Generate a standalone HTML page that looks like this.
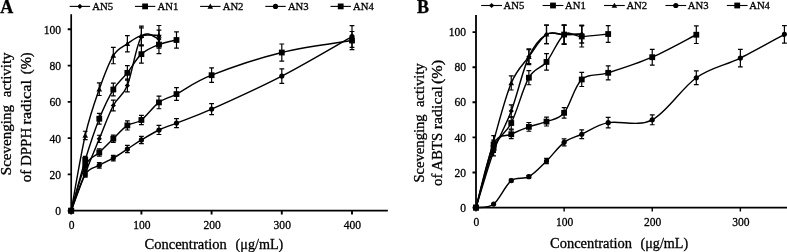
<!DOCTYPE html>
<html><head><meta charset="utf-8"><style>
html,body{margin:0;padding:0;background:#fff;}
body{width:787px;height:252px;overflow:hidden;}
svg{display:block;font-family:"Liberation Serif",serif;}
text{stroke:#000;stroke-width:0.3px;}
svg{filter:grayscale(1) blur(0.3px);}
</style></head><body>
<svg width="787" height="252" viewBox="0 0 787 252">
<rect width="787" height="252" fill="#fff"/>
<g fill="#000" class="t">
<path d="M71.20,210.70 C73.54,204.47 80.56,185.30 85.24,173.33 C89.92,161.36 94.60,150.17 99.28,138.87 C103.96,127.56 108.64,114.38 113.32,105.49 C118.00,96.60 122.68,96.96 127.36,85.53 C132.04,74.11 136.13,44.66 141.40,36.92 C146.66,29.18 156.02,38.73 158.95,39.10" fill="none" stroke="#000" stroke-width="1.45"/>
<path d="M85.24,170.61 V176.05 M82.84,170.61 H87.64 M82.84,176.05 H87.64 M99.28,135.24 V142.49 M96.88,135.24 H101.68 M96.88,142.49 H101.68 M113.32,100.05 V110.93 M110.92,100.05 H115.72 M110.92,110.93 H115.72 M127.36,79.18 V91.88 M124.96,79.18 H129.76 M124.96,91.88 H129.76 M141.40,27.85 V45.99 M139.00,27.85 H143.80 M139.00,45.99 H143.80 M158.95,30.03 V48.17 M156.55,30.03 H161.35 M156.55,48.17 H161.35" fill="none" stroke="#000" stroke-width="1.2"/>
<path d="M71.20,208.10 L73.80,210.70 L71.20,213.30 L68.60,210.70Z"/>
<path d="M85.24,170.73 L87.84,173.33 L85.24,175.93 L82.64,173.33Z"/>
<path d="M99.28,136.27 L101.88,138.87 L99.28,141.47 L96.68,138.87Z"/>
<path d="M113.32,102.89 L115.92,105.49 L113.32,108.09 L110.72,105.49Z"/>
<path d="M127.36,82.93 L129.96,85.53 L127.36,88.13 L124.76,85.53Z"/>
<path d="M141.40,34.32 L144.00,36.92 L141.40,39.52 L138.80,36.92Z"/>
<path d="M158.95,36.50 L161.55,39.10 L158.95,41.70 L156.35,39.10Z"/>
<path d="M71.20,210.70 C73.54,202.23 80.56,175.24 85.24,159.91 C89.92,144.58 94.60,130.46 99.28,118.73 C103.96,107.00 108.64,97.17 113.32,89.52 C118.00,81.88 122.68,78.73 127.36,72.84 C132.04,66.94 136.13,58.87 141.40,54.15 C146.66,49.44 153.10,46.90 158.95,44.54 C164.80,42.18 173.57,40.76 176.50,40.00" fill="none" stroke="#000" stroke-width="1.45"/>
<path d="M85.24,156.28 V163.54 M82.84,156.28 H87.64 M82.84,163.54 H87.64 M99.28,113.29 V124.17 M96.88,113.29 H101.68 M96.88,124.17 H101.68 M113.32,83.18 V95.87 M110.92,83.18 H115.72 M110.92,95.87 H115.72 M127.36,65.58 V80.09 M124.96,65.58 H129.76 M124.96,80.09 H129.76 M141.40,45.08 V63.22 M139.00,45.08 H143.80 M139.00,63.22 H143.80 M158.95,35.47 V53.61 M156.55,35.47 H161.35 M156.55,53.61 H161.35 M176.50,31.84 V48.17 M174.10,31.84 H178.90 M174.10,48.17 H178.90" fill="none" stroke="#000" stroke-width="1.2"/>
<rect x="68.30" y="207.80" width="5.80" height="5.80"/>
<rect x="82.34" y="157.01" width="5.80" height="5.80"/>
<rect x="96.38" y="115.83" width="5.80" height="5.80"/>
<rect x="110.42" y="86.62" width="5.80" height="5.80"/>
<rect x="124.46" y="69.94" width="5.80" height="5.80"/>
<rect x="138.50" y="51.25" width="5.80" height="5.80"/>
<rect x="156.05" y="41.64" width="5.80" height="5.80"/>
<rect x="173.60" y="37.10" width="5.80" height="5.80"/>
<path d="M71.20,210.70 C73.54,198.15 80.56,155.68 85.24,135.42 C89.92,115.16 94.60,102.46 99.28,89.16 C103.96,75.86 108.64,63.16 113.32,55.60 C118.00,48.04 122.68,47.14 127.36,43.81 C132.04,40.49 136.13,37.04 141.40,35.65 C146.66,34.26 156.02,35.50 158.95,35.47" fill="none" stroke="#000" stroke-width="1.45"/>
<path d="M85.24,131.25 V139.59 M82.84,131.25 H87.64 M82.84,139.59 H87.64 M99.28,82.81 V95.51 M96.88,82.81 H101.68 M96.88,95.51 H101.68 M113.32,47.44 V63.77 M110.92,47.44 H115.72 M110.92,63.77 H115.72 M127.36,35.65 V51.97 M124.96,35.65 H129.76 M124.96,51.97 H129.76 M141.40,26.22 V45.08 M139.00,26.22 H143.80 M139.00,45.08 H143.80 M158.95,25.49 V45.44 M156.55,25.49 H161.35 M156.55,45.44 H161.35" fill="none" stroke="#000" stroke-width="1.2"/>
<path d="M71.20,207.90 L74.00,212.94 L68.40,212.94Z"/>
<path d="M85.24,132.62 L88.04,137.66 L82.44,137.66Z"/>
<path d="M99.28,86.36 L102.08,91.40 L96.48,91.40Z"/>
<path d="M113.32,52.80 L116.12,57.84 L110.52,57.84Z"/>
<path d="M127.36,41.01 L130.16,46.05 L124.56,46.05Z"/>
<path d="M141.40,32.85 L144.20,37.89 L138.60,37.89Z"/>
<path d="M158.95,32.67 L161.75,37.71 L156.15,37.71Z"/>
<path d="M71.20,210.70 C73.54,204.65 80.56,181.98 85.24,174.42 C89.92,166.86 94.60,168.07 99.28,165.35 C103.96,162.63 108.64,160.81 113.32,158.09 C118.00,155.37 122.68,152.05 127.36,149.02 C132.04,146.00 136.13,143.13 141.40,139.95 C146.66,136.78 153.10,132.79 158.95,129.98 C164.80,127.17 167.72,126.56 176.50,123.08 C185.28,119.61 194.05,116.95 211.60,109.12 C229.15,101.29 258.40,88.19 281.80,76.10 C305.20,64.01 340.30,43.15 352.00,36.56" fill="none" stroke="#000" stroke-width="1.45"/>
<path d="M85.24,171.70 V177.14 M82.84,171.70 H87.64 M82.84,177.14 H87.64 M99.28,162.63 V168.07 M96.88,162.63 H101.68 M96.88,168.07 H101.68 M113.32,155.37 V160.81 M110.92,155.37 H115.72 M110.92,160.81 H115.72 M127.36,145.40 V152.65 M124.96,145.40 H129.76 M124.96,152.65 H129.76 M141.40,136.33 V143.58 M139.00,136.33 H143.80 M139.00,143.58 H143.80 M158.95,125.44 V134.51 M156.55,125.44 H161.35 M156.55,134.51 H161.35 M176.50,118.55 V127.62 M174.10,118.55 H178.90 M174.10,127.62 H178.90 M211.60,103.67 V114.56 M209.20,103.67 H214.00 M209.20,114.56 H214.00 M281.80,68.85 V83.36 M279.40,68.85 H284.20 M279.40,83.36 H284.20 M352.00,25.67 V47.44 M349.60,25.67 H354.40 M349.60,47.44 H354.40" fill="none" stroke="#000" stroke-width="1.2"/>
<circle cx="71.20" cy="210.70" r="2.6"/>
<circle cx="85.24" cy="174.42" r="2.6"/>
<circle cx="99.28" cy="165.35" r="2.6"/>
<circle cx="113.32" cy="158.09" r="2.6"/>
<circle cx="127.36" cy="149.02" r="2.6"/>
<circle cx="141.40" cy="139.95" r="2.6"/>
<circle cx="158.95" cy="129.98" r="2.6"/>
<circle cx="176.50" cy="123.08" r="2.6"/>
<circle cx="211.60" cy="109.12" r="2.6"/>
<circle cx="281.80" cy="76.10" r="2.6"/>
<circle cx="352.00" cy="36.56" r="2.6"/>
<path d="M71.20,210.70 C73.54,203.20 80.56,175.42 85.24,165.71 C89.92,156.01 94.60,156.98 99.28,152.47 C103.96,147.97 108.64,143.19 113.32,138.68 C118.00,134.18 122.68,128.56 127.36,125.44 C132.04,122.33 136.13,123.84 141.40,120.00 C146.66,116.16 153.10,106.73 158.95,102.40 C164.80,98.08 167.72,98.59 176.50,94.06 C185.28,89.52 194.05,82.12 211.60,75.19 C229.15,68.27 258.40,58.29 281.80,52.52 C305.20,46.74 340.30,42.54 352.00,40.55" fill="none" stroke="#000" stroke-width="1.45"/>
<path d="M85.24,162.08 V169.34 M82.84,162.08 H87.64 M82.84,169.34 H87.64 M99.28,148.84 V156.10 M96.88,148.84 H101.68 M96.88,156.10 H101.68 M113.32,135.06 V142.31 M110.92,135.06 H115.72 M110.92,142.31 H115.72 M127.36,120.91 V129.98 M124.96,120.91 H129.76 M124.96,129.98 H129.76 M141.40,115.46 V124.53 M139.00,115.46 H143.80 M139.00,124.53 H143.80 M158.95,96.06 V108.75 M156.55,96.06 H161.35 M156.55,108.75 H161.35 M176.50,87.71 V100.41 M174.10,87.71 H178.90 M174.10,100.41 H178.90 M211.60,67.94 V82.45 M209.20,67.94 H214.00 M209.20,82.45 H214.00 M281.80,43.99 V61.04 M279.40,43.99 H284.20 M279.40,61.04 H284.20 M352.00,31.48 V49.62 M349.60,31.48 H354.40 M349.60,49.62 H354.40" fill="none" stroke="#000" stroke-width="1.2"/>
<rect x="68.30" y="207.80" width="5.80" height="5.80"/>
<rect x="82.34" y="162.81" width="5.80" height="5.80"/>
<rect x="96.38" y="149.57" width="5.80" height="5.80"/>
<rect x="110.42" y="135.78" width="5.80" height="5.80"/>
<rect x="124.46" y="122.54" width="5.80" height="5.80"/>
<rect x="138.50" y="117.10" width="5.80" height="5.80"/>
<rect x="156.05" y="99.50" width="5.80" height="5.80"/>
<rect x="173.60" y="91.16" width="5.80" height="5.80"/>
<rect x="208.70" y="72.29" width="5.80" height="5.80"/>
<rect x="278.90" y="49.62" width="5.80" height="5.80"/>
<rect x="349.10" y="37.65" width="5.80" height="5.80"/>
<path d="M71.20,15.00 V210.70 H387.00" fill="none" stroke="#000" stroke-width="1.70" stroke-linecap="square"/>
<path d="M67.70,210.70 H71.20 M67.70,174.42 H71.20 M67.70,138.14 H71.20 M67.70,101.86 H71.20 M67.70,65.58 H71.20 M67.70,29.30 H71.20" fill="none" stroke="#000" stroke-width="1.9"/>
<path d="M71.20,210.70 V214.50 M141.40,210.70 V214.50 M211.60,210.70 V214.50 M281.80,210.70 V214.50 M352.00,210.70 V214.50" fill="none" stroke="#000" stroke-width="1.90"/>
<text x="61.10" y="215.20" text-anchor="end" font-size="12.3" textLength="5.78" lengthAdjust="spacingAndGlyphs">0</text>
<text x="61.10" y="178.92" text-anchor="end" font-size="12.3" textLength="11.56" lengthAdjust="spacingAndGlyphs">20</text>
<text x="61.10" y="142.64" text-anchor="end" font-size="12.3" textLength="11.56" lengthAdjust="spacingAndGlyphs">40</text>
<text x="61.10" y="106.36" text-anchor="end" font-size="12.3" textLength="11.56" lengthAdjust="spacingAndGlyphs">60</text>
<text x="61.10" y="70.08" text-anchor="end" font-size="12.3" textLength="11.56" lengthAdjust="spacingAndGlyphs">80</text>
<text x="61.10" y="33.80" text-anchor="end" font-size="12.3" textLength="17.34" lengthAdjust="spacingAndGlyphs">100</text>
<text x="71.65" y="228.90" text-anchor="middle" font-size="12.3" textLength="5.78" lengthAdjust="spacingAndGlyphs">0</text>
<text x="141.85" y="228.90" text-anchor="middle" font-size="12.3" textLength="17.34" lengthAdjust="spacingAndGlyphs">100</text>
<text x="212.05" y="228.90" text-anchor="middle" font-size="12.3" textLength="17.34" lengthAdjust="spacingAndGlyphs">200</text>
<text x="282.25" y="228.90" text-anchor="middle" font-size="12.3" textLength="17.34" lengthAdjust="spacingAndGlyphs">300</text>
<text x="352.45" y="228.90" text-anchor="middle" font-size="12.3" textLength="17.34" lengthAdjust="spacingAndGlyphs">400</text>
<path d="M69.70,6.40 H90.10" stroke="#000" stroke-width="1.1"/>
<path d="M79.90,3.80 L82.50,6.40 L79.90,9.00 L77.30,6.40Z"/>
<text x="92.30" y="10.00" font-size="10.7">AN5</text>
<path d="M134.90,6.40 H155.30" stroke="#000" stroke-width="1.1"/>
<rect x="142.20" y="3.50" width="5.80" height="5.80"/>
<text x="157.50" y="10.00" font-size="10.7">AN1</text>
<path d="M200.10,6.40 H220.50" stroke="#000" stroke-width="1.1"/>
<path d="M210.30,3.60 L213.10,8.64 L207.50,8.64Z"/>
<text x="222.70" y="10.00" font-size="10.7">AN2</text>
<path d="M265.30,6.40 H285.70" stroke="#000" stroke-width="1.1"/>
<circle cx="275.50" cy="6.40" r="2.6"/>
<text x="287.90" y="10.00" font-size="10.7">AN3</text>
<path d="M330.50,6.40 H350.90" stroke="#000" stroke-width="1.1"/>
<rect x="337.80" y="3.50" width="5.80" height="5.80"/>
<text x="353.10" y="10.00" font-size="10.7">AN4</text>
<text x="144.50" y="248.60" font-size="14.5" textLength="82.30" lengthAdjust="spacingAndGlyphs">Concentration</text>
<text x="235.60" y="248.60" font-size="14.5" textLength="47.70" lengthAdjust="spacingAndGlyphs">(μg/mL)</text>
<text transform="translate(10.80,175.20) rotate(-90)" font-size="14.9" textLength="70.20" lengthAdjust="spacingAndGlyphs">Scevenging</text>
<text transform="translate(10.80,97.20) rotate(-90)" font-size="14.9" textLength="44.80" lengthAdjust="spacingAndGlyphs">activity</text>
<text transform="translate(30.50,182.20) rotate(-90)" font-size="14.9" textLength="54.40" lengthAdjust="spacingAndGlyphs">of DPPH</text>
<text transform="translate(30.50,124.40) rotate(-90)" font-size="14.9" textLength="44.50" lengthAdjust="spacingAndGlyphs">radical</text>
<text transform="translate(30.50,74.20) rotate(-90)" font-size="14.9" textLength="21.90" lengthAdjust="spacingAndGlyphs">(%)</text>
<text x="0.20" y="13.00" font-size="18" font-weight="bold" stroke="none">A</text>
</g>
<g fill="#000" class="t">
<path d="M476.00,207.60 C478.94,198.24 487.75,167.53 493.62,151.44 C499.50,135.35 505.37,126.87 511.25,111.08 C517.12,95.28 523.00,69.45 528.87,56.67 C534.75,43.89 540.62,38.07 546.50,34.38 C552.37,30.70 558.25,34.59 564.12,34.56 C569.99,34.53 578.81,34.26 581.74,34.21" fill="none" stroke="#000" stroke-width="1.45"/>
<path d="M493.62,147.05 V155.83 M491.22,147.05 H496.02 M491.22,155.83 H496.02 M511.25,104.93 V117.22 M508.85,104.93 H513.65 M508.85,117.22 H513.65 M528.87,49.65 V63.69 M526.47,49.65 H531.27 M526.47,63.69 H531.27 M546.50,25.08 V43.68 M544.10,25.08 H548.90 M544.10,43.68 H548.90 M564.12,25.08 V44.03 M561.72,25.08 H566.52 M561.72,44.03 H566.52 M581.74,25.43 V42.98 M579.34,25.43 H584.14 M579.34,42.98 H584.14" fill="none" stroke="#000" stroke-width="1.2"/>
<path d="M476.00,205.00 L478.60,207.60 L476.00,210.20 L473.40,207.60Z"/>
<path d="M493.62,148.84 L496.22,151.44 L493.62,154.04 L491.02,151.44Z"/>
<path d="M511.25,108.48 L513.85,111.08 L511.25,113.67 L508.65,111.08Z"/>
<path d="M528.87,54.07 L531.47,56.67 L528.87,59.27 L526.27,56.67Z"/>
<path d="M546.50,31.78 L549.10,34.38 L546.50,36.98 L543.90,34.38Z"/>
<path d="M564.12,31.96 L566.72,34.56 L564.12,37.16 L561.52,34.56Z"/>
<path d="M581.74,31.61 L584.34,34.21 L581.74,36.81 L579.14,34.21Z"/>
<path d="M476.00,207.60 C478.94,197.66 487.75,162.03 493.62,147.93 C499.50,133.83 505.37,134.71 511.25,123.01 C517.12,111.31 523.00,87.91 528.87,77.73 C534.75,67.55 540.62,69.13 546.50,61.94 C552.37,54.74 558.25,38.80 564.12,34.56 C569.99,30.32 574.40,36.58 581.74,36.49 C589.09,36.40 603.77,34.44 608.18,34.03" fill="none" stroke="#000" stroke-width="1.45"/>
<path d="M493.62,143.54 V152.32 M491.22,143.54 H496.02 M491.22,152.32 H496.02 M511.25,116.87 V129.15 M508.85,116.87 H513.65 M508.85,129.15 H513.65 M528.87,70.71 V84.75 M526.47,70.71 H531.27 M526.47,84.75 H531.27 M546.50,53.69 V70.18 M544.10,53.69 H548.90 M544.10,70.18 H548.90 M564.12,25.08 V44.03 M561.72,25.08 H566.52 M561.72,44.03 H566.52 M581.74,25.96 V47.02 M579.34,25.96 H584.14 M579.34,47.02 H584.14 M608.18,25.61 V42.45 M605.78,25.61 H610.58 M605.78,42.45 H610.58" fill="none" stroke="#000" stroke-width="1.2"/>
<rect x="473.10" y="204.70" width="5.80" height="5.80"/>
<rect x="490.72" y="145.03" width="5.80" height="5.80"/>
<rect x="508.35" y="120.11" width="5.80" height="5.80"/>
<rect x="525.97" y="74.83" width="5.80" height="5.80"/>
<rect x="543.60" y="59.04" width="5.80" height="5.80"/>
<rect x="561.22" y="31.66" width="5.80" height="5.80"/>
<rect x="578.84" y="33.59" width="5.80" height="5.80"/>
<rect x="605.28" y="31.13" width="5.80" height="5.80"/>
<path d="M476.00,207.60 C478.94,196.48 487.75,161.68 493.62,140.91 C499.50,120.14 505.37,97.03 511.25,83.00 C517.12,68.96 523.00,64.77 528.87,56.67 C534.75,48.57 540.62,38.07 546.50,34.38 C552.37,30.70 558.25,34.59 564.12,34.56 C569.99,34.53 578.81,34.26 581.74,34.21" fill="none" stroke="#000" stroke-width="1.45"/>
<path d="M493.62,135.64 V146.18 M491.22,135.64 H496.02 M491.22,146.18 H496.02 M511.25,75.97 V90.02 M508.85,75.97 H513.65 M508.85,90.02 H513.65 M528.87,48.77 V64.57 M526.47,48.77 H531.27 M526.47,64.57 H531.27 M546.50,25.08 V43.68 M544.10,25.08 H548.90 M544.10,43.68 H548.90 M564.12,25.08 V44.03 M561.72,25.08 H566.52 M561.72,44.03 H566.52 M581.74,25.43 V42.98 M579.34,25.43 H584.14 M579.34,42.98 H584.14" fill="none" stroke="#000" stroke-width="1.2"/>
<path d="M476.00,204.80 L478.80,209.84 L473.20,209.84Z"/>
<path d="M493.62,138.11 L496.42,143.15 L490.82,143.15Z"/>
<path d="M511.25,80.20 L514.05,85.23 L508.45,85.23Z"/>
<path d="M528.87,53.87 L531.67,58.91 L526.07,58.91Z"/>
<path d="M546.50,31.58 L549.30,36.62 L543.70,36.62Z"/>
<path d="M564.12,31.76 L566.92,36.80 L561.32,36.80Z"/>
<path d="M581.74,31.41 L584.54,36.45 L578.94,36.45Z"/>
<path d="M476.00,207.60 C478.94,207.01 487.75,208.59 493.62,204.09 C499.50,199.59 505.37,185.14 511.25,180.57 C517.12,176.01 523.00,179.96 528.87,176.71 C534.75,173.47 540.62,166.83 546.50,161.09 C552.37,155.36 558.25,146.79 564.12,142.31 C569.99,137.84 574.40,137.52 581.74,134.24 C589.09,130.96 596.43,125.06 608.18,122.66 C619.93,120.26 637.55,127.34 652.24,119.85 C666.93,112.36 681.61,88.03 696.30,77.73 C710.99,67.43 725.67,65.30 740.36,58.07 C755.05,50.85 777.08,38.33 784.42,34.38" fill="none" stroke="#000" stroke-width="1.45"/>
<path d="M511.25,179.17 V181.98 M508.85,179.17 H513.65 M508.85,181.98 H513.65 M528.87,175.31 V178.12 M526.47,175.31 H531.27 M526.47,178.12 H531.27 M546.50,158.46 V163.72 M544.10,158.46 H548.90 M544.10,163.72 H548.90 M564.12,138.80 V145.82 M561.72,138.80 H566.52 M561.72,145.82 H566.52 M581.74,129.85 V138.63 M579.34,129.85 H584.14 M579.34,138.63 H584.14 M608.18,117.39 V127.92 M605.78,117.39 H610.58 M605.78,127.92 H610.58 M652.24,114.94 V124.76 M649.84,114.94 H654.64 M649.84,124.76 H654.64 M696.30,70.89 V84.57 M693.90,70.89 H698.70 M693.90,84.57 H698.70 M740.36,49.30 V66.85 M737.96,49.30 H742.76 M737.96,66.85 H742.76 M784.42,25.61 V43.16 M782.02,25.61 H786.82 M782.02,43.16 H786.82" fill="none" stroke="#000" stroke-width="1.2"/>
<circle cx="476.00" cy="207.60" r="2.6"/>
<circle cx="493.62" cy="204.09" r="2.6"/>
<circle cx="511.25" cy="180.57" r="2.6"/>
<circle cx="528.87" cy="176.71" r="2.6"/>
<circle cx="546.50" cy="161.09" r="2.6"/>
<circle cx="564.12" cy="142.31" r="2.6"/>
<circle cx="581.74" cy="134.24" r="2.6"/>
<circle cx="608.18" cy="122.66" r="2.6"/>
<circle cx="652.24" cy="119.85" r="2.6"/>
<circle cx="696.30" cy="77.73" r="2.6"/>
<circle cx="740.36" cy="58.07" r="2.6"/>
<circle cx="784.42" cy="34.38" r="2.6"/>
<path d="M476.00,207.60 C478.94,197.07 487.75,156.65 493.62,144.42 C499.50,132.19 505.37,137.17 511.25,134.24 C517.12,131.32 523.00,128.98 528.87,126.87 C534.75,124.76 540.62,123.95 546.50,121.61 C552.37,119.27 558.25,119.85 564.12,112.83 C569.99,105.81 574.40,86.15 581.74,79.49 C589.09,72.82 596.43,76.53 608.18,72.82 C619.93,69.10 637.55,63.54 652.24,57.20 C666.93,50.85 688.96,38.48 696.30,34.73" fill="none" stroke="#000" stroke-width="1.45"/>
<path d="M493.62,140.03 V148.81 M491.22,140.03 H496.02 M491.22,148.81 H496.02 M511.25,129.85 V138.63 M508.85,129.85 H513.65 M508.85,138.63 H513.65 M528.87,122.48 V131.26 M526.47,122.48 H531.27 M526.47,131.26 H531.27 M546.50,117.22 V125.99 M544.10,117.22 H548.90 M544.10,125.99 H548.90 M564.12,107.56 V118.09 M561.72,107.56 H566.52 M561.72,118.09 H566.52 M581.74,72.47 V86.50 M579.34,72.47 H584.14 M579.34,86.50 H584.14 M608.18,65.80 V79.84 M605.78,65.80 H610.58 M605.78,79.84 H610.58 M652.24,49.30 V65.09 M649.84,49.30 H654.64 M649.84,65.09 H654.64 M696.30,25.96 V43.51 M693.90,25.96 H698.70 M693.90,43.51 H698.70" fill="none" stroke="#000" stroke-width="1.2"/>
<rect x="473.10" y="204.70" width="5.80" height="5.80"/>
<rect x="490.72" y="141.52" width="5.80" height="5.80"/>
<rect x="508.35" y="131.34" width="5.80" height="5.80"/>
<rect x="525.97" y="123.97" width="5.80" height="5.80"/>
<rect x="543.60" y="118.70" width="5.80" height="5.80"/>
<rect x="561.22" y="109.93" width="5.80" height="5.80"/>
<rect x="578.84" y="76.59" width="5.80" height="5.80"/>
<rect x="605.28" y="69.92" width="5.80" height="5.80"/>
<rect x="649.34" y="54.30" width="5.80" height="5.80"/>
<rect x="693.40" y="31.83" width="5.80" height="5.80"/>
<path d="M476.00,16.00 V207.60 H790.00" fill="none" stroke="#000" stroke-width="1.80" stroke-linecap="square"/>
<path d="M472.50,207.60 H476.00 M472.50,172.50 H476.00 M472.50,137.40 H476.00 M472.50,102.30 H476.00 M472.50,67.20 H476.00 M472.50,32.10 H476.00" fill="none" stroke="#000" stroke-width="1.9"/>
<path d="M476.00,207.60 V211.40 M564.12,207.60 V211.40 M652.24,207.60 V211.40 M740.36,207.60 V211.40" fill="none" stroke="#000" stroke-width="1.40"/>
<text x="466.10" y="211.70" text-anchor="end" font-size="12.3" textLength="5.78" lengthAdjust="spacingAndGlyphs">0</text>
<text x="466.10" y="176.60" text-anchor="end" font-size="12.3" textLength="11.56" lengthAdjust="spacingAndGlyphs">20</text>
<text x="466.10" y="141.50" text-anchor="end" font-size="12.3" textLength="11.56" lengthAdjust="spacingAndGlyphs">40</text>
<text x="466.10" y="106.40" text-anchor="end" font-size="12.3" textLength="11.56" lengthAdjust="spacingAndGlyphs">60</text>
<text x="466.10" y="71.30" text-anchor="end" font-size="12.3" textLength="11.56" lengthAdjust="spacingAndGlyphs">80</text>
<text x="466.10" y="36.20" text-anchor="end" font-size="12.3" textLength="17.34" lengthAdjust="spacingAndGlyphs">100</text>
<text x="476.45" y="225.80" text-anchor="middle" font-size="12.3" textLength="5.78" lengthAdjust="spacingAndGlyphs">0</text>
<text x="564.57" y="225.80" text-anchor="middle" font-size="12.3" textLength="17.34" lengthAdjust="spacingAndGlyphs">100</text>
<text x="652.69" y="225.80" text-anchor="middle" font-size="12.3" textLength="17.34" lengthAdjust="spacingAndGlyphs">200</text>
<text x="740.81" y="225.80" text-anchor="middle" font-size="12.3" textLength="17.34" lengthAdjust="spacingAndGlyphs">300</text>
<path d="M481.20,5.50 H502.00" stroke="#000" stroke-width="1.1"/>
<path d="M491.60,2.90 L494.20,5.50 L491.60,8.10 L489.00,5.50Z"/>
<text x="503.60" y="8.85" font-size="10.7">AN5</text>
<path d="M542.60,5.50 H563.40" stroke="#000" stroke-width="1.1"/>
<rect x="550.10" y="2.60" width="5.80" height="5.80"/>
<text x="565.00" y="8.85" font-size="10.7">AN1</text>
<path d="M604.00,5.50 H624.80" stroke="#000" stroke-width="1.1"/>
<path d="M614.40,2.70 L617.20,7.74 L611.60,7.74Z"/>
<text x="626.40" y="8.85" font-size="10.7">AN2</text>
<path d="M665.40,5.50 H686.20" stroke="#000" stroke-width="1.1"/>
<circle cx="675.80" cy="5.50" r="2.6"/>
<text x="687.80" y="8.85" font-size="10.7">AN3</text>
<path d="M726.80,5.50 H747.60" stroke="#000" stroke-width="1.1"/>
<rect x="734.30" y="2.60" width="5.80" height="5.80"/>
<text x="749.20" y="8.85" font-size="10.7">AN4</text>
<text x="550.00" y="247.50" font-size="14.5" textLength="82.10" lengthAdjust="spacingAndGlyphs">Concentration</text>
<text x="640.50" y="247.50" font-size="14.5" textLength="47.70" lengthAdjust="spacingAndGlyphs">(μg/mL)</text>
<text transform="translate(423.80,182.50) rotate(-90)" font-size="14.5" textLength="68.10" lengthAdjust="spacingAndGlyphs">Scevenging</text>
<text transform="translate(423.80,106.90) rotate(-90)" font-size="14.5" textLength="43.60" lengthAdjust="spacingAndGlyphs">activity</text>
<text transform="translate(441.80,185.90) rotate(-90)" font-size="14.5" textLength="53.10" lengthAdjust="spacingAndGlyphs">of ABTS</text>
<text transform="translate(441.80,129.20) rotate(-90)" font-size="14.5" textLength="43.10" lengthAdjust="spacingAndGlyphs">radical</text>
<text transform="translate(441.80,84.10) rotate(-90)" font-size="14.5" textLength="24.20" lengthAdjust="spacingAndGlyphs">(%)</text>
<text x="417.00" y="13.00" font-size="18" font-weight="bold" stroke="none">B</text>
</g>
</svg>
</body></html>
